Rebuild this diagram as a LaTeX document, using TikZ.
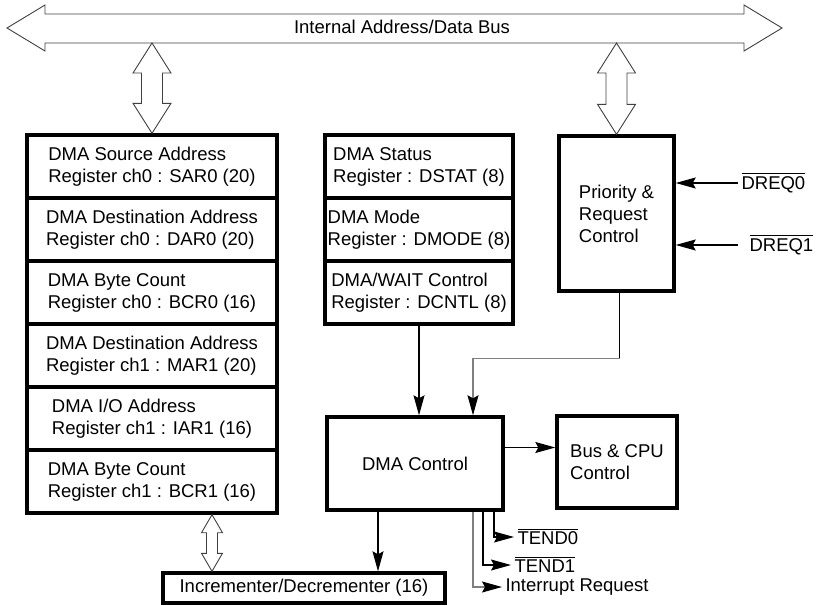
\documentclass[tikz,border=0pt]{standalone}
\usepackage{fontspec}
\setmainfont{Liberation Sans}
\usetikzlibrary{arrows.meta,calc}

\newcommand{\ovl}[1]{\vbox{\hrule height 1.2pt\kern1.8pt\hbox{#1}}}
\newcommand{\hollow}[5]{%
  \draw[hol] let \p1=(#1), \p2=(#2) in
    (\x1,\y1) -- (\x1+#3pt,\y1-#5pt) -- (\x1+#4pt,\y1-#5pt) -- (\x2+#4pt,\y2+#5pt)
    -- (\x2+#3pt,\y2+#5pt) -- (\x2,\y2) -- (\x2-#3pt,\y2+#5pt) -- (\x2-#4pt,\y2+#5pt)
    -- (\x1-#4pt,\y1-#5pt) -- (\x1-#3pt,\y1-#5pt) -- cycle;}

\begin{document}
\begin{tikzpicture}[x=1pt,y=-1pt,
  every node/.style={font=\fontsize{18.5}{22}\selectfont},
  reg/.style={draw,line width=3.4pt,minimum width=250pt,minimum height=63pt,align=left,inner sep=2pt},
  mreg/.style={reg,minimum width=188pt},
  blk/.style={draw,line width=3.4pt,align=left,inner sep=2pt},
  sig/.style={line width=1.2pt,-{Stealth[length=20pt,width=11pt,inset=3pt,color=black]}},
  gsig/.style={sig,draw=black!50},
  hol/.style={draw=black!75,line width=0.9pt,fill=white}]
  \useasboundingbox (0,0) rectangle (818,605);

  \draw[hol] (7,28) -- (45,5) -- (45,14) -- (744,14) -- (744,5) -- (782,28)
    -- (744,51) -- (744,43) -- (45,43) -- (45,51) -- cycle;
  \node (bus) at (402,27) {Internal Address/Data Bus};
  \coordinate (busb) at (0,43);

  \node[reg] (sar) at (152,166.5) {DMA Source Address\\Register ch0 : SAR0 (20)};
  \node[reg] (dar) at (152,229.5) {DMA Destination Address\\Register ch0 : DAR0 (20)};
  \node[reg] (bcr0) at (152,292.5) {DMA Byte Count\\Register ch0 : BCR0 (16)};
  \node[reg] (mar) at (152,355.5) {DMA Destination Address\\Register ch1 : MAR1 (20)};
  \node[reg] (iar) at (152,418.5) {DMA I/O Address\\Register ch1 : IAR1 (16)};
  \node[reg] (bcr1) at (152,481.5) {DMA Byte Count\\Register ch1 : BCR1 (16)};

  \node[mreg] (dstat) at (419,166.5) {DMA Status\\Register : DSTAT (8)};
  \node[mreg] (dmode) at (419,229.5) {DMA Mode\\Register : DMODE (8)};
  \node[mreg] (dcntl) at (419,292.5) {DMA/WAIT Control\\Register : DCNTL (8)};

  \node[blk,minimum width=115pt,minimum height=155pt] (prc) at (616.5,213.5) {Priority \&\\Request\\Control};
  \node[blk,minimum width=176pt,minimum height=93pt] (ctl) at (415,463.5) {DMA Control};
  \node[blk,minimum width=120pt,minimum height=92pt] (bcpu) at (617,462) {Bus \& CPU\\Control};
  \node[blk,minimum width=282pt,minimum height=30pt] (incr) at (304,588) {Incrementer/Decrementer (16)};

  \node[anchor=west] (dreq0) at (738,183) {\ovl{DREQ0}};
  \node[anchor=west] (dreq1) at (746,245) {\ovl{DREQ1}};
  \node[anchor=west] (tend0) at (514,537) {\ovl{TEND0}};
  \node[anchor=west] (tend1) at (511,565) {\ovl{TEND1}};
  \node[anchor=west] (intr) at (502,587) {Interrupt Request};

  \hollow{sar.north |- busb}{sar.north}{19}{10.5}{30}
  \hollow{prc.north |- busb}{prc.north}{19}{10.5}{30}
  \coordinate (u1) at ([xshift=60pt]bcr1.south);
  \hollow{u1}{u1 |- incr.north}{10.5}{5.5}{18}

  \draw[sig] (dreq0.west) -- (dreq0.west -| prc.east);
  \draw[sig] (dreq1.west) ++(-8,0) coordinate (q1) -- (q1 -| prc.east);
  \draw[sig] (dcntl.south) -- (dcntl.south |- ctl.north);
  \draw[line width=1.2pt] ([xshift=3pt]prc.south) -- ++(0,66) coordinate (p1);
  \draw[gsig] (p1) -| ([xshift=58pt]ctl.north);
  \coordinate (c1) at ([yshift=16pt]ctl.east);
  \draw[sig] (c1) -- (c1 -| bcpu.west);
  \coordinate (d1) at ([xshift=-37pt]ctl.south);
  \draw[sig] (d1) -- (d1 |- incr.north);
  \draw[sig] ([xshift=79pt]ctl.south) |- (tend0.west);
  \draw[sig] ([xshift=68pt]ctl.south) |- (tend1.west);
  \draw[gsig] ([xshift=58pt]ctl.south) |- (intr.west);
\end{tikzpicture}
\end{document}
